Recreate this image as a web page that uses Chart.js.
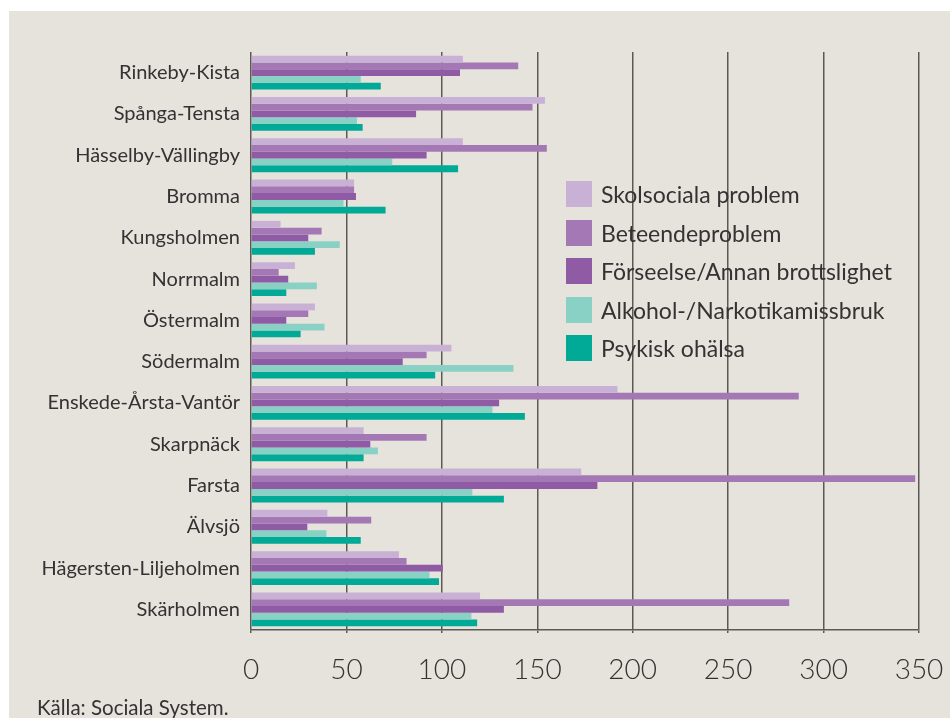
<!DOCTYPE html>
<html lang="sv">
<head>
<meta charset="utf-8">
<script src="https://cdn.jsdelivr.net/npm/chart.js"></script>
<style>
  body { margin: 0; background: #fff; width: 950px; height: 718px; overflow: hidden; }
  #panel { position: absolute; left: 9px; top: 11px; width: 941px; height: 707px; background: #e6e2dc; }
  #chart { position: absolute; left: 0; top: 0; }
  #legend { position: absolute; left: 557px; top: 170px; font-family: Lato, sans-serif; font-size: 23px; color: #333; }
  #legend .item { display: flex; align-items: center; height: 26px; margin-bottom: 12.5px; white-space: nowrap; }
  #legend .box { width: 26px; height: 26px; margin-right: 9px; flex: none; }
  #source { position: absolute; left: 28px; top: 684px; font-family: Lato, sans-serif; font-size: 20.5px; color: #333; }
</style>
</head>
<body>
<div id="panel">
  <canvas id="chart" width="941" height="707"></canvas>
  <div id="legend"></div>
  <div id="source">Källa: Sociala System.</div>
</div>

<script>
// stadsdelar, top to bottom
const categories = ['Rinkeby-Kista', 'Spånga-Tensta', 'Hässelby-Vällingby', 'Bromma', 'Kungsholmen',
  'Norrmalm', 'Östermalm', 'Södermalm', 'Enskede-Årsta-Vantör', 'Skarpnäck', 'Farsta', 'Älvsjö',
  'Hägersten-Liljeholmen', 'Skärholmen'];

const seriesNames = ['Skolsociala problem', 'Beteendeproblem', 'Förseelse/Annan brottslighet',
  'Alkohol-/Narkotikamissbruk', 'Psykisk ohälsa'];

const skolsociala = [111, 154, 111, 54, 15.5, 23, 33.5, 105, 192, 59, 173, 40, 77.5, 120];
const beteende    = [140, 147.5, 155, 54, 37, 14.5, 30, 92, 287, 92, 348, 63, 81.5, 282];
const forseelse   = [109.5, 86.5, 92, 55, 30, 19.5, 18.5, 79.5, 130, 62.5, 181.5, 29.5, 100.5, 132.5];
const alkohol     = [57.5, 55.5, 74, 48.5, 46.5, 34.5, 38.5, 137.5, 126.5, 66.5, 116, 39.5, 93.5, 115.5];
const psykisk     = [68, 58.5, 108.5, 70.5, 33.5, 18.5, 26, 96.5, 143.5, 59, 132.5, 57.5, 98.5, 118.5];

const xTicks = [0, 50, 100, 150, 200, 250, 300, 350];

const colors = ['#c9b1d6', '#a478b4', '#8f5ba5', '#89d1c5', '#00aa96'];
const values = [skolsociala, beteende, forseelse, alkohol, psykisk];

const ctx = document.getElementById('chart').getContext('2d');
const chart = new Chart(ctx, {
  type: 'bar',
  data: {
    labels: categories,
    datasets: seriesNames.map((name, i) => ({
      label: name,
      data: values[i],
      backgroundColor: colors[i],
      borderWidth: 0,
      categoryPercentage: 0.82,
      barPercentage: 1.0
    }))
  },
  options: {
    indexAxis: 'y',
    responsive: false,
    animation: false,
    layout: { padding: { left: 0, right: 31, top: 41, bottom: 0 } },
    plugins: { legend: { display: false }, tooltip: { enabled: false } },
    scales: {
      x: {
        min: 0,
        max: 350,
        afterBuildTicks: s => { s.ticks = xTicks.map(v => ({ value: v })); },
        afterFit: s => { s.height = 88; s.paddingLeft = 0; s.paddingRight = 0; },
        grid: { color: '#5d5853', lineWidth: 1.5, tickLength: 3 },
        border: { display: true, color: '#5d5853', width: 1.5 },
        ticks: { color: '#333', padding: 20, font: { family: 'Lato', size: 28, weight: 300 } }
      },
      y: {
        afterFit: s => { s.width = 242; s.paddingTop = 0; s.paddingBottom = 0; },
        grid: { display: false, drawTicks: false },
        border: { display: false },
        ticks: { color: '#333', padding: 11, font: { family: 'Lato', size: 20 } }
      }
    }
  }
});

// legend built from the chart's datasets
const legend = document.getElementById('legend');
chart.data.datasets.forEach(ds => {
  const item = document.createElement('div');
  item.className = 'item';
  item.innerHTML = `<span class="box" style="background:${ds.backgroundColor}"></span><span>${ds.label}</span>`;
  legend.appendChild(item);
});
</script>
</body>
</html>
